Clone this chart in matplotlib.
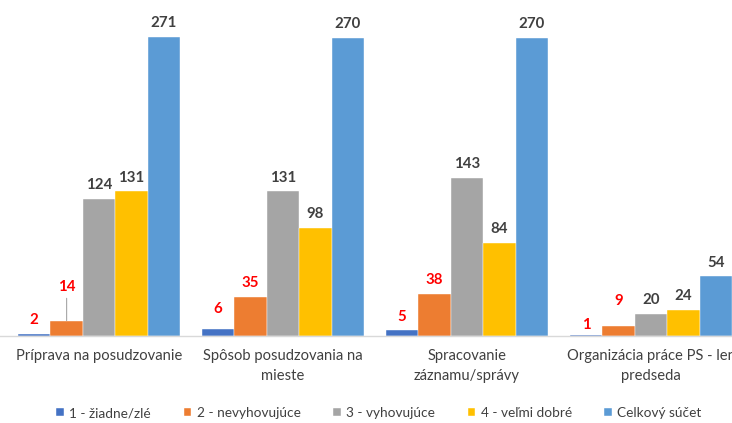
import matplotlib
matplotlib.use("Agg")
import matplotlib.pyplot as plt
import numpy as np

categories = ["Príprava na posudzovanie", "Spôsob posudzovania na\nmieste",
              "Spracovanie\nzáznamu/správy", "Organizácia práce PS - len\npredseda"]
series_names = ["1 - žiadne/zlé", "2 - nevyhovujúce", "3 - vyhovujúce",
                "4 - veľmi dobré", "Celkový súčet"]
s1 = [2, 6, 5, 1]
s2 = [14, 35, 38, 9]
s3 = [124, 131, 143, 20]
s4 = [131, 98, 84, 24]
s5 = [271, 270, 270, 54]
values = [s1, s2, s3, s4, s5]

colors = ["#4472C4", "#ED7D31", "#A5A5A5", "#FFC000", "#5B9BD5"]
label_colors = ["#FF0000", "#FF0000", "#404040", "#404040", "#404040"]
# extra label offsets (points) for a few labels as placed in the original
extra_offset = {(1, 0): 5, (0, 1): 5, (1, 3): 8, (0, 3): -3}
leader = {(1, 0)}

plt.rcParams['font.family'] = ['Lato', 'DejaVu Sans']
fig = plt.figure(figsize=(7.32, 4.23), dpi=100)
ax = fig.add_axes([0, (423 - 336) / 423, 1, 336 / 423])

x = np.arange(len(categories))
w = 0.176
for i, (vals, c) in enumerate(zip(values, colors)):
    pos = x + (i - 2) * w
    ax.bar(pos, vals, width=w, color=c, edgecolor="white", linewidth=0.3,
           label=series_names[i], zorder=2)
    for j, (p, v) in enumerate(zip(pos, vals)):
        off = 10 + extra_offset.get((i, j), 0)
        if (i, j) in leader:
            ax.annotate(str(v), xy=(p, v), xytext=(0, off + 4), textcoords="offset points",
                        ha="center", va="bottom", fontsize=10.8, fontweight="bold",
                        color=label_colors[i],
                        arrowprops=dict(arrowstyle="-", color="#A6A6A6", lw=0.8,
                                        shrinkA=1, shrinkB=0))
        else:
            ax.annotate(str(v), xy=(p, v), xytext=(0, off), textcoords="offset points",
                        ha="center", va="center", fontsize=10.8, fontweight="bold",
                        color=label_colors[i])

ax.set_xlim(-99 / 184, (732 - 99) / 184)
ax.set_ylim(0, 271 * 336 / 299)
for s in ["top", "right", "left"]:
    ax.spines[s].set_visible(False)
ax.spines["bottom"].set_color("#D9D9D9")
ax.spines["bottom"].set_linewidth(1)
ax.set_yticks([])
ax.set_xticks(x)
ax.set_xticklabels(categories, fontsize=10.6, color="#404040", linespacing=1.6)
ax.tick_params(axis="x", length=0, pad=9)

fig.legend(loc="center", bbox_to_anchor=(379 / 732, 10 / 423), ncol=5, frameon=False,
           fontsize=9.8, handlelength=0.55, handleheight=0.55, handletextpad=0.4,
           columnspacing=2.4, labelcolor="#404040")

fig.savefig("out.png", dpi=100)
